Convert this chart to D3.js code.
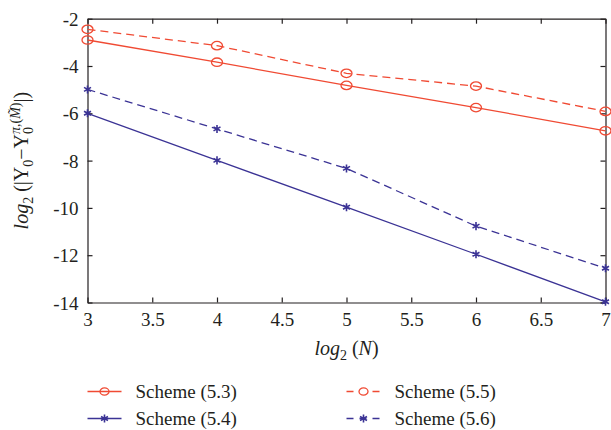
<!DOCTYPE html>
<html>
<head>
<meta charset="utf-8">
<script src="https://cdn.jsdelivr.net/npm/d3@7"></script>
<style>
  body { margin: 0; background: #fff; }
  svg text { font-family: 'Liberation Serif', 'DejaVu Serif', 'Times New Roman', Times, serif !important; fill: #231f20; }
</style>
</head>
<body>
<svg id="chart" width="611" height="430"></svg>
<script>
// data
let nValues = [3, 4, 5, 6, 7];
let scheme53 = [-2.9, -3.84, -4.82, -5.76, -6.74];
let scheme54 = [-6.0, -7.99, -9.97, -11.96, -13.97];
let scheme55 = [-2.45, -3.14, -4.31, -4.85, -5.92];
let scheme56 = [-4.99, -6.66, -8.33, -10.77, -12.55];
let xTicks = [3, 3.5, 4, 4.5, 5, 5.5, 6, 6.5, 7];
let yTicks = [-14, -12, -10, -8, -6, -4, -2];

let red = '#f04a33';
let blue = '#3b3395';

let series = [
    {name: 'Scheme (5.3)', values: scheme53, color: red, dash: null, marker: 'circle'},
    {name: 'Scheme (5.4)', values: scheme54, color: blue, dash: null, marker: 'star'},
    {name: 'Scheme (5.5)', values: scheme55, color: red, dash: '8,5', marker: 'circle'},
    {name: 'Scheme (5.6)', values: scheme56, color: blue, dash: '8,5', marker: 'star'}
];

let margin = {l: 87.5, r: 5.5, t: 18.7, b: 127.5};
let size = {w: 611, h: 430};
let inner = {w: size.w - margin.l - margin.r, h: size.h - margin.t - margin.b};

let svg = d3.select('#chart');
let canvas = svg.append('g')
    .attr('transform', `translate(${margin.l}, ${margin.t})`);

let xScale = d3.scaleLinear().domain([3, 7]).range([0, inner.w]);
let yScale = d3.scaleLinear().domain([-14, -2]).range([inner.h, 0]);

// axes: inward ticks on all four sides
let fmt = d => String(d);
let axB = canvas.append('g').attr('transform', `translate(0, ${inner.h})`)
    .call(d3.axisBottom(xScale).tickValues(xTicks).tickSize(-5).tickSizeOuter(0).tickPadding(9).tickFormat(fmt));
let axT = canvas.append('g')
    .call(d3.axisTop(xScale).tickValues(xTicks).tickSize(-5).tickSizeOuter(0).tickFormat(''));
let axL = canvas.append('g')
    .call(d3.axisLeft(yScale).tickValues(yTicks).tickSize(-5).tickSizeOuter(0).tickPadding(9).tickFormat(fmt));
let axR = canvas.append('g').attr('transform', `translate(${inner.w}, 0)`)
    .call(d3.axisRight(yScale).tickValues(yTicks).tickSize(-5).tickSizeOuter(0).tickFormat(''));

[axB, axT, axL, axR].forEach(a => {
    a.attr('font-family', null);
    a.selectAll('path, line').attr('stroke', '#231f20').attr('stroke-width', 1.2);
    a.selectAll('text').style('font-size', '19px').attr('fill', '#231f20');
});
axL.selectAll('text').attr('dy', '0.35em');
axB.selectAll('text').attr('dy', '0.75em');

let line = d3.line()
    .x((d, i) => xScale(nValues[i]))
    .y(d => yScale(d));

let star = d3.symbol().type(d3.symbolAsterisk).size(45);

series.forEach(s => {
    canvas.append('path')
        .datum(s.values)
        .attr('d', line)
        .attr('fill', 'none')
        .attr('stroke', s.color)
        .attr('stroke-width', 1.3)
        .attr('stroke-dasharray', s.dash);

    let pts = canvas.selectAll(null)
        .data(s.values)
        .join('g')
        .attr('transform', (d, i) => `translate(${xScale(nValues[i])}, ${yScale(d)})`);
    if (s.marker === 'circle') {
        pts.append('ellipse').attr('rx', 5.5).attr('ry', 4.2)
            .attr('fill', 'none').attr('stroke', s.color).attr('stroke-width', 1.3);
    } else {
        pts.append('path').attr('d', star)
            .attr('fill', 'none').attr('stroke', s.color).attr('stroke-width', 1.6);
    }
});

// x label
let xl = svg.append('text')
    .attr('x', margin.l + inner.w / 2)
    .attr('y', 355)
    .attr('text-anchor', 'middle')
    .style('font-size', '20px');
xl.append('tspan').style('font-style', 'italic').text('log');
xl.append('tspan').attr('dy', 5).style('font-size', '14px').text('2');
xl.append('tspan').attr('dy', -5).text(' (');
xl.append('tspan').style('font-style', 'italic').text('N');
xl.append('tspan').text(')');

// y label
let yl = svg.append('text')
    .attr('transform', `translate(28, ${margin.t + inner.h / 2}) rotate(-90)`)
    .attr('text-anchor', 'middle')
    .style('font-size', '20px');
yl.append('tspan').style('font-style', 'italic').text('log');
yl.append('tspan').attr('dy', 5).style('font-size', '14px').text('2');
yl.append('tspan').attr('dy', -5).text(' (|');
yl.append('tspan').text('Y');
yl.append('tspan').attr('dy', 5).style('font-size', '14px').text('0');
yl.append('tspan').attr('dy', -5).text('\u2212');
yl.append('tspan').text('Y');
yl.append('tspan').attr('dy', 5).style('font-size', '14px').text('0');
yl.append('tspan').attr('dy', -13).attr('dx', -7).style('font-size', '14px').style('font-style', 'italic').text('\u03c0');
yl.append('tspan').style('font-size', '14px').text(',(');
yl.append('tspan').style('font-size', '14px').style('font-style', 'italic').text('M\u0303');
yl.append('tspan').style('font-size', '14px').text(')');
yl.append('tspan').attr('dy', 8).text('|)');

// legend
let legendPos = [
    {x: 87.5, y: 391.5},
    {x: 87.5, y: 418.5},
    {x: 346.5, y: 391.5},
    {x: 346.5, y: 418.5}
];
series.forEach((s, i) => {
    let g = svg.append('g').attr('transform', `translate(${legendPos[i].x}, ${legendPos[i].y})`);
    g.append('line').attr('x1', 0).attr('x2', 34).attr('y1', 0).attr('y2', 0)
        .attr('stroke', s.color).attr('stroke-width', 1.3)
        .attr('stroke-dasharray', s.dash ? '7,6' : null);
    if (s.marker === 'circle') {
        g.append('ellipse').attr('cx', 17).attr('rx', 4.5).attr('ry', 3.6)
            .attr('fill', s.dash ? '#fff' : 'none').attr('stroke', s.color).attr('stroke-width', 1.3);
    } else {
        g.append('path').attr('transform', 'translate(17, 0)').attr('d', star)
            .attr('fill', 'none').attr('stroke', s.color).attr('stroke-width', 1.6);
    }
    g.append('text').attr('x', 48).attr('dy', '0.35em')
        .style('font-size', '19px').text(s.name);
});
</script>
</body>
</html>
